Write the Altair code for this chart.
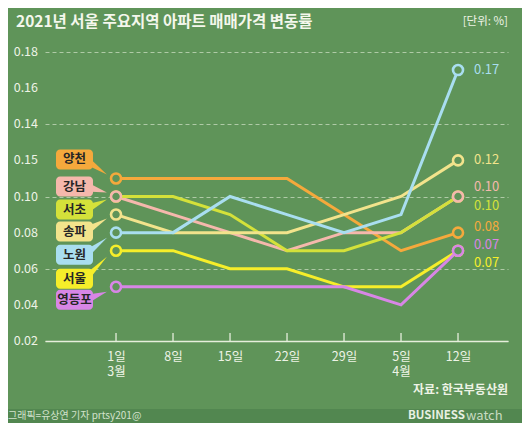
import json
import altair as alt
import pandas as pd

# ---------------- data ----------------
regions = ["양천", "강남", "서초", "송파", "노원", "서울", "영등포"]
colors = ["#F5A93C", "#F5B8AC", "#D4E13A", "#F2E38C", "#A9DEF0", "#F6EE2A", "#D886E6"]
days = ["1일", "8일", "15일", "22일", "29일", "5일", "12일"]
months = ["3월", "", "", "", "", "4월", ""]
yangcheon = [0.11, 0.11, 0.11, 0.11, 0.09, 0.07, 0.08]
gangnam = [0.10, 0.09, 0.08, 0.07, 0.08, 0.08, 0.10]
seocho = [0.10, 0.10, 0.09, 0.07, 0.07, 0.08, 0.10]
songpa = [0.09, 0.08, 0.08, 0.08, 0.09, 0.10, 0.12]
nowon = [0.08, 0.08, 0.10, 0.09, 0.08, 0.09, 0.17]
seoul = [0.07, 0.07, 0.06, 0.06, 0.05, 0.05, 0.07]
yeongdeungpo = [0.05, 0.05, 0.05, 0.05, 0.05, 0.04, 0.07]
series = [yangcheon, gangnam, seocho, songpa, nowon, seoul, yeongdeungpo]
y_ticks = [0.02, 0.04, 0.06, 0.08, 0.10, 0.12, 0.14, 0.16, 0.18]
y_tick_labels = ["0.02", "0.04", "0.06", "0.08", "0.10", "0.15", "0.14", "0.16", "0.18"]

title = "2021년 서울 주요지역 아파트 매매가격 변동률"
unit = "[단위: %]"
source = "자료: 한국부동산원"
credit = "그래픽=유상연 기자 prtsy201@"

# ---------------- style / annotation placement ----------------
BG = "#5F9459"
FOOT = "#528750"
TXT = "#EEF3E6"
FONT = "Noto Sans CJK KR"
W, H = 463, 289
U = 0.16 / H  # data units per pixel
# end-label vertical nudges (px) to avoid overlaps
end_dy = [-6, -10, 9, 0, 0, 12, -6]
# callout box centres (px offset from first point) and tail tip nudges (px)
box_dy = [-19, -10, 13, 17, 22, 28, 13]
tip_dy = [-4, -4, 3, 4, 5, 6, 5]
# drawing order of the end circles (last on top)
circle_order = ["서울", "서초", "송파", "양천", "노원", "강남", "영등포"]

rows = []
for r, vals, dy in zip(regions, series, end_dy):
    for i, v in enumerate(vals):
        rows.append(dict(region=r, idx=i, value=v, ly=v - dy * U,
                         co=circle_order.index(r)))
df = pd.DataFrame(rows)
df_circ = df[(df.idx == 0) | (df.idx == 6)].sort_values("co")

ann = []
tail = []
for r, vals, bd, td in zip(regions, series, box_dy, tip_dy):
    by = vals[0] - bd * U
    ann.append(dict(region=r, x1=-1.053, x2=-0.404, cx=-0.728,
                    y1=by - 10 * U, y2=by + 10 * U, cy=by))
    tip = vals[0] - td * U
    tail.append(dict(region=r, tx=-0.53, top=by + 5 * U, bot=by - 5 * U))
    tail.append(dict(region=r, tx=-0.16, top=tip, bot=tip))
ann = pd.DataFrame(ann)
tail = pd.DataFrame(tail)
ytl = pd.DataFrame({"v": y_ticks, "t": y_tick_labels})

xscale = alt.Scale(domain=[-1.246, 6.877], nice=False, zero=False)
yscale = alt.Scale(domain=[0.02, 0.18], nice=False, zero=False)
color = alt.Color("region:N", scale=alt.Scale(domain=regions, range=colors), legend=None)
stroke = alt.Stroke("region:N", scale=alt.Scale(domain=regions, range=colors), legend=None)

xlab = json.dumps([[d, m] if m else [d] for d, m in zip(days, months)], ensure_ascii=False)


def X(field):
    return alt.X(field, scale=xscale)


def Y(field):
    return alt.Y(field, scale=yscale)


lines = alt.Chart(df).mark_line(strokeWidth=3).encode(
    x=alt.X("idx:Q", scale=xscale, axis=alt.Axis(
        values=list(range(7)), labelExpr=f"{xlab}[round(datum.value)]",
        domain=True, domainColor="#E6EEDC", domainWidth=1.3, ticks=False, grid=False,
        labelColor=TXT, labelFontSize=12.5, labelFont=FONT, labelPadding=9,
        labelLineHeight=15, labelOverlap=False, title=None)),
    y=alt.Y("value:Q", scale=yscale, axis=alt.Axis(
        values=y_ticks, labels=False,
        domain=False, ticks=False, grid=True, gridDash=[4, 3], gridColor="#C9DCC0",
        gridOpacity=0.75, gridWidth=1, title=None)),
    color=color,
    order="idx:Q",
)

y_labels = alt.Chart(ytl).mark_text(
    align="right", baseline="middle", fontSize=12.5, font=FONT, color=TXT).encode(
    x=alt.value(-7),
    y=Y("v:Q"),
    text="t:N",
)

ticks = alt.Chart(pd.DataFrame({"idx": list(range(7))})).mark_rule(
    color="#E6EEDC", strokeWidth=1.3).encode(
    x=X("idx:Q"),
    y=alt.datum(0.02),
    y2=alt.datum(0.02 + 8 * U),
)

circles = alt.Chart(df_circ).mark_point(
    shape="circle", filled=True, fill=BG, fillOpacity=1, size=100, strokeWidth=2.6,
    opacity=1).encode(
    x=X("idx:Q"),
    y=Y("value:Q"),
    stroke=stroke,
)

end_labels = alt.Chart(df).transform_filter("datum.idx == 6").mark_text(
    align="left", baseline="middle", dx=16, fontSize=13, font=FONT).encode(
    x=X("idx:Q"),
    y=Y("ly:Q"),
    text=alt.Text("value:Q", format=".2f"),
    color=color,
)

tails = alt.Chart(tail).mark_area(opacity=1).encode(
    x=X("tx:Q"),
    y=Y("top:Q"),
    y2="bot:Q",
    color=color,
    detail="region:N",
)

boxes = alt.Chart(ann).mark_rect(cornerRadius=4).encode(
    x=X("x1:Q"), x2="x2:Q",
    y=Y("y1:Q"), y2="y2:Q",
    color=color,
)

box_text = alt.Chart(ann).mark_text(
    fontSize=12.5, fontWeight="bold", font=FONT, color="#262626", baseline="middle").encode(
    x=X("cx:Q"),
    y=Y("cy:Q"),
    text="region:N",
)


def label(text, x, y, align="left", size=12, weight="normal", col=TXT):
    return alt.Chart(pd.DataFrame({"t": [text]})).mark_text(
        align=align, baseline="middle", fontSize=size, fontWeight=weight,
        font=FONT, color=col).encode(x=alt.value(x), y=alt.value(y), text="t:N")


footer = alt.Chart(pd.DataFrame({"a": [0]})).mark_rect(color=FOOT).encode(
    x=alt.value(-40), x2=alt.value(480), y=alt.value(357), y2=alt.value(380))

chart = alt.layer(
    footer,
    lines, y_labels, ticks, circles, end_labels, tails, boxes, box_text,
    label(title, -29, -30, size=15.5, weight="bold", col="#F4F7EC"),
    label(unit, 463, -30, align="right", size=11.5),
    label(source, 463, 338, align="right", size=12, weight="bold"),
    label(credit, -37, 364, size=10, col="#D2E2CC"),
    label("BUSINESS", 420, 364, align="right", size=11.5, weight="bold", col="#E8F0E2"),
    label("watch", 421, 364, size=13, weight="normal", col="#C8DBC2"),
).properties(
    width=W, height=H,
    autosize=alt.AutoSizeParams(type="none"),
    padding={"left": 37, "top": 44, "right": 14, "bottom": 82},
    background=BG,
).configure_view(strokeWidth=0)

chart.save("out.html", embed_options={"renderer": "svg", "actions": False})
